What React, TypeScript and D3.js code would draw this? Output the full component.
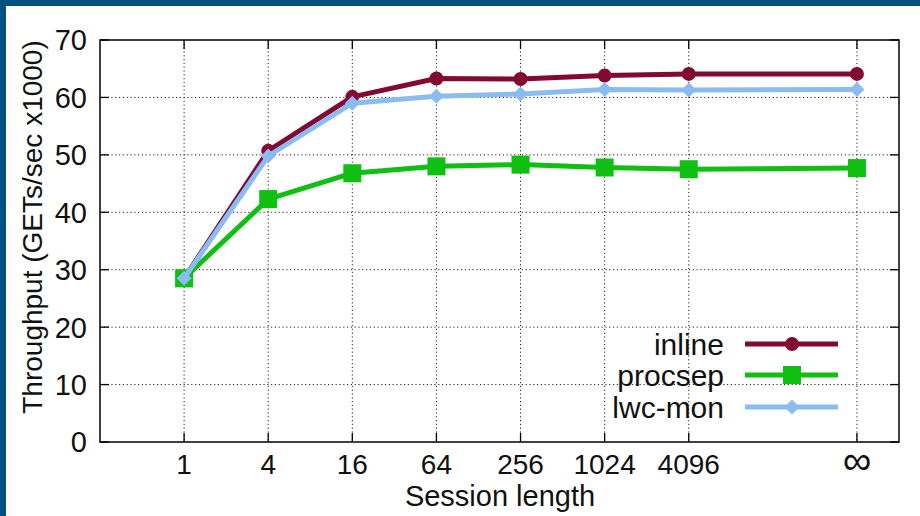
import React from "react";
import * as d3 from "d3";

const sessionLabels = ["1", "4", "16", "64", "256", "1024", "4096", "∞"];
const sessionLengths = [1, 4, 16, 64, 256, 1024, 4096, Infinity];
const yTicks = [0, 10, 20, 30, 40, 50, 60, 70];

const inlineValues = [28.5, 50.7, 60.1, 63.3, 63.2, 63.8, 64.1, 64.1];
const procsepValues = [28.5, 42.3, 46.8, 48.0, 48.3, 47.8, 47.5, 47.7];
const lwcValues = [28.5, 49.8, 59.0, 60.2, 60.6, 61.4, 61.3, 61.4];

const seriesNames = ["inline", "procsep", "lwc-mon"];
const seriesColors = ["#820a32", "#0fbf12", "#8abcf2"];
const seriesMarkers = ["circle", "square", "diamond"];
const seriesValues = [inlineValues, procsepValues, lwcValues];

const W = 920;
const H = 516;
const FONT = "'Liberation Sans', Arial, sans-serif";

// log4 position; infinity placed two steps past 4096
const pos = (n: number) => (Number.isFinite(n) ? Math.log(n) / Math.log(4) : 8);

function Marker({ kind, cx, cy, color }: { kind: string; cx: number; cy: number; color: string }) {
  if (kind === "circle") return <circle cx={cx} cy={cy} r={7} fill={color} />;
  if (kind === "square") return <rect x={cx - 9} y={cy - 9} width={18} height={18} fill={color} />;
  const s = 7.5;
  return <path d={`M${cx},${cy - s}L${cx + s},${cy}L${cx},${cy + s}L${cx - s},${cy}Z`} fill={color} />;
}

export default function App() {
  const left = 100, right = 899, top = 40, bottom = 442;
  const x = d3.scaleLinear().domain([-1, 8.5]).range([left, right]);
  const y = d3.scaleLinear().domain([0, 70]).range([bottom, top]);
  const line = d3
    .line<number>()
    .x((_, i) => x(pos(sessionLengths[i])))
    .y((v) => y(v));

  const legendY = [344, 375, 407];

  return (
    <svg
      width={W}
      height={H}
      style={{ position: "absolute", left: 0, top: 0, background: "#fff" }}
      fontFamily={FONT}
    >
      <rect x={0} y={0} width={W} height={H} fill="#fff" />
      {/* frame */}
      <rect x={0} y={0} width={W} height={6} fill="#02517f" />
      <rect x={0} y={0} width={6} height={H} fill="#02517f" />

      {/* grid */}
      {yTicks.slice(1, -1).map((t) => (
        <line key={"gy" + t} x1={left} x2={right} y1={y(t)} y2={y(t)} stroke="#222" strokeWidth={1} strokeDasharray="1.2,2.6" />
      ))}
      {sessionLengths.map((n, i) => (
        <line key={"gx" + i} x1={x(pos(n))} x2={x(pos(n))} y1={top} y2={bottom} stroke="#222" strokeWidth={1} strokeDasharray="1.2,2.6" />
      ))}

      {/* ticks */}
      {yTicks.map((t) => (
        <g key={"ty" + t}>
          <line x1={left} x2={left + 9} y1={y(t)} y2={y(t)} stroke="#000" strokeWidth={1.3} />
          <line x1={right - 9} x2={right} y1={y(t)} y2={y(t)} stroke="#000" strokeWidth={1.3} />
          <text x={87} y={y(t)} dy="0.36em" textAnchor="end" fontSize={29} fill="#111">
            {t}
          </text>
        </g>
      ))}
      {sessionLengths.map((n, i) => (
        <g key={"tx" + i}>
          <line x1={x(pos(n))} x2={x(pos(n))} y1={bottom} y2={bottom - 9} stroke="#000" strokeWidth={1.3} />
          <line x1={x(pos(n))} x2={x(pos(n))} y1={top} y2={top + 9} stroke="#000" strokeWidth={1.3} />
          <text
            x={x(pos(n))}
            y={474}
            textAnchor="middle"
            fontSize={Number.isFinite(n) ? 28 : 40}
            fill="#111"
          >
            {sessionLabels[i]}
          </text>
        </g>
      ))}

      {/* border */}
      <rect x={left} y={top} width={right - left} height={bottom - top} fill="none" stroke="#000" strokeWidth={1.5} />

      {/* axis titles */}
      <text x={500} y={506} textAnchor="middle" fontSize={29} fill="#111">
        Session length
      </text>
      <text
        transform={`translate(42, ${(top + bottom) / 2 - 14}) rotate(-90)`}
        textAnchor="middle"
        fontSize={28}
        fill="#111"
      >
        Throughput (GETs/sec x1000)
      </text>

      {/* series */}
      {seriesValues.map((vals, s) => (
        <g key={"s" + s}>
          <path d={line(vals) || ""} fill="none" stroke={seriesColors[s]} strokeWidth={5} strokeLinejoin="round" />
          {vals.map((v, i) => (
            <Marker key={i} kind={seriesMarkers[s]} cx={x(pos(sessionLengths[i]))} cy={y(v)} color={seriesColors[s]} />
          ))}
        </g>
      ))}

      {/* legend */}
      {seriesNames.map((name, s) => (
        <g key={"l" + s}>
          <text x={724} y={legendY[s]} dy="0.36em" textAnchor="end" fontSize={30} fill="#111">
            {name}
          </text>
          <line x1={745} x2={838} y1={legendY[s]} y2={legendY[s]} stroke={seriesColors[s]} strokeWidth={5} />
          <Marker kind={seriesMarkers[s]} cx={792} cy={legendY[s]} color={seriesColors[s]} />
        </g>
      ))}
    </svg>
  );
}
